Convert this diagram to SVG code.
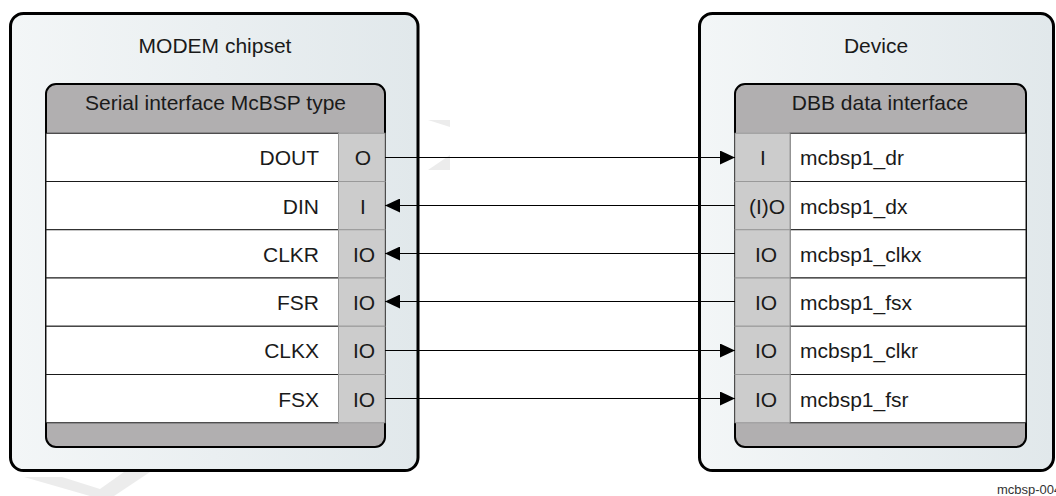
<svg xmlns="http://www.w3.org/2000/svg" width="1056" height="496" viewBox="0 0 1056 496">
  <defs>
    <linearGradient id="bg" x1="0" y1="0" x2="1" y2="0">
      <stop offset="0" stop-color="#f3f6f7"/>
      <stop offset="1" stop-color="#e1e8eb"/>
    </linearGradient>
    <marker id="arr" markerUnits="userSpaceOnUse" markerWidth="16" markerHeight="14" refX="15" refY="7" orient="auto">
      <path d="M0,0 L15,7 L0,14 z" fill="#000"/>
    </marker>
    <style>
      .outer { fill: url(#bg); stroke: #000; stroke-width: 3; }
      .inner { fill: #b1afb0; stroke: #000; stroke-width: 2; }
      .cell { fill: #fff; stroke: #1a1a1a; stroke-width: 1; }
      .io { fill: #cccccc; stroke: #999; stroke-width: 1; }
      text { font-family: "Liberation Sans", Arial, sans-serif; font-size: 21px; fill: #1a1a1a; }
      .mid { text-anchor: middle; }
      .end { text-anchor: end; }
      .wire { stroke: #000; stroke-width: 1; fill: none; marker-end: url(#arr); }
      .wm { fill: #ececec; }
    </style>
  </defs>

  <g id="watermark">
    <polygon class="wm" points="24,477 62,477 100,489 124,472 150,472 114,496 90,496"/>
    <polygon class="wm" points="428,120 450,120 450,127"/>
    <polygon class="wm" points="428,170 450,155 450,170"/>
  </g>

  <g id="modem">
    <rect class="outer" x="10.5" y="13.5" width="407.5" height="457" rx="13"/>
    <text class="mid" x="215" y="53">MODEM chipset</text>
    <rect class="inner" x="46" y="84" width="339" height="363" rx="10"/>
    <text class="mid" x="215.5" y="110">Serial interface McBSP type</text>
    <g id="modem-rows">
      <rect class="cell" x="46" y="133.25" width="292.5" height="48.25"/>
      <rect class="cell" x="46" y="181.5" width="292.5" height="48.25"/>
      <rect class="cell" x="46" y="229.75" width="292.5" height="48.25"/>
      <rect class="cell" x="46" y="278" width="292.5" height="48.25"/>
      <rect class="cell" x="46" y="326.25" width="292.5" height="48.25"/>
      <rect class="cell" x="46" y="374.5" width="292.5" height="48.25"/>
      <rect class="io" x="338.5" y="133.25" width="46.5" height="48.25"/>
      <rect class="io" x="338.5" y="181.5" width="46.5" height="48.25"/>
      <rect class="io" x="338.5" y="229.75" width="46.5" height="48.25"/>
      <rect class="io" x="338.5" y="278" width="46.5" height="48.25"/>
      <rect class="io" x="338.5" y="326.25" width="46.5" height="48.25"/>
      <rect class="io" x="338.5" y="374.5" width="46.5" height="48.25"/>
    </g>
    <text class="end" x="319" y="165.3">DOUT</text>
    <text class="end" x="319" y="213.5">DIN</text>
    <text class="end" x="319" y="261.8">CLKR</text>
    <text class="end" x="319" y="310">FSR</text>
    <text class="end" x="319" y="358.3">CLKX</text>
    <text class="end" x="319" y="406.5">FSX</text>
    <text class="mid" x="363" y="165.3">O</text>
    <text class="mid" x="363" y="213.5">I</text>
    <text class="mid" x="364" y="261.8">IO</text>
    <text class="mid" x="364" y="310">IO</text>
    <text class="mid" x="364" y="358.3">IO</text>
    <text class="mid" x="364" y="406.5">IO</text>
  </g>

  <g id="device">
    <rect class="outer" x="699.5" y="13.5" width="354" height="457" rx="13"/>
    <text class="mid" x="876" y="53">Device</text>
    <rect class="inner" x="735" y="84" width="291" height="363" rx="10"/>
    <text class="mid" x="880" y="110">DBB data interface</text>
    <g id="device-rows">
      <rect class="cell" x="790" y="133.25" width="236" height="48.25"/>
      <rect class="cell" x="790" y="181.5" width="236" height="48.25"/>
      <rect class="cell" x="790" y="229.75" width="236" height="48.25"/>
      <rect class="cell" x="790" y="278" width="236" height="48.25"/>
      <rect class="cell" x="790" y="326.25" width="236" height="48.25"/>
      <rect class="cell" x="790" y="374.5" width="236" height="48.25"/>
      <rect class="io" x="735" y="133.25" width="55" height="48.25"/>
      <rect class="io" x="735" y="181.5" width="55" height="48.25"/>
      <rect class="io" x="735" y="229.75" width="55" height="48.25"/>
      <rect class="io" x="735" y="278" width="55" height="48.25"/>
      <rect class="io" x="735" y="326.25" width="55" height="48.25"/>
      <rect class="io" x="735" y="374.5" width="55" height="48.25"/>
    </g>
    <text class="mid" x="763" y="165.3">I</text>
    <text class="mid" x="767" y="213.5">(I)O</text>
    <text class="mid" x="766" y="261.8">IO</text>
    <text class="mid" x="766" y="310">IO</text>
    <text class="mid" x="766" y="358.3">IO</text>
    <text class="mid" x="766" y="406.5">IO</text>
    <text x="800" y="165.3">mcbsp1_dr</text>
    <text x="800" y="213.5">mcbsp1_dx</text>
    <text x="800" y="261.8">mcbsp1_clkx</text>
    <text x="800" y="310">mcbsp1_fsx</text>
    <text x="800" y="358.3">mcbsp1_clkr</text>
    <text x="800" y="406.5">mcbsp1_fsr</text>
  </g>

  <g id="connectors">
    <line class="wire" x1="385" y1="157.5" x2="735" y2="157.5"/>
    <line class="wire" x1="735" y1="205.5" x2="385" y2="205.5"/>
    <line class="wire" x1="735" y1="253.5" x2="385" y2="253.5"/>
    <line class="wire" x1="735" y1="301.5" x2="385" y2="301.5"/>
    <line class="wire" x1="385" y1="350.5" x2="735" y2="350.5"/>
    <line class="wire" x1="385" y1="398.5" x2="735" y2="398.5"/>
  </g>

  <text x="997" y="494" style="font-size:13px;fill:#333">mcbsp-004</text>
</svg>
